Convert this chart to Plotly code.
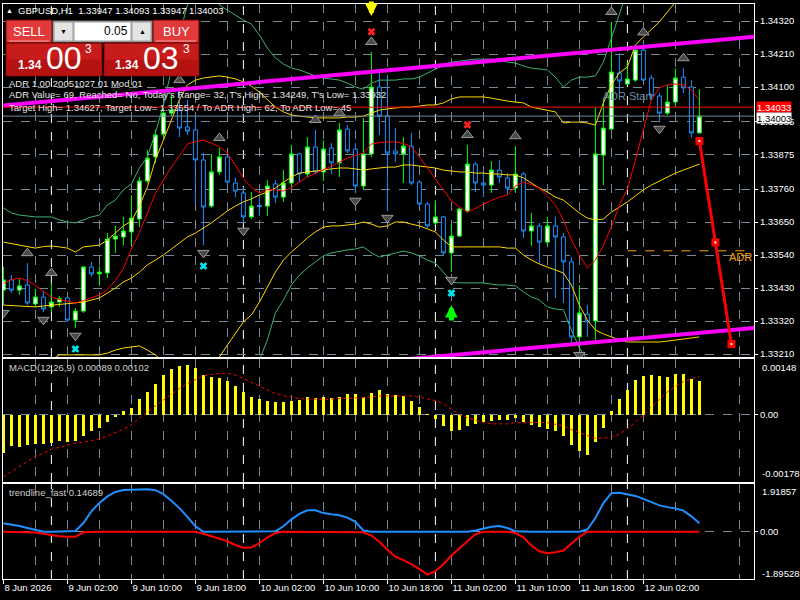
import pandas as pd
import plotly.graph_objects as go

# ---------------- data ----------------
times = pd.date_range("2026-06-08 18:00", periods=88, freq="h")
bars = list(range(len(times)))

open_ = [1.33423,1.33457,1.33423,1.33440,1.33377,1.33400,1.33367,1.33383,1.33397,1.33323,
         1.33353,1.33500,1.33477,1.33480,1.33593,1.33600,1.33617,1.33660,1.33787,1.33867,
         1.33943,1.34013,1.34023,1.33967,1.33957,1.33857,1.33703,1.33817,1.33867,1.33780,
         1.33747,1.33667,1.33705,1.33703,1.33777,1.33733,1.33780,1.33877,1.33810,1.33900,
         1.33817,1.33897,1.33847,1.33960,1.33893,1.33770,1.33877,1.34100,1.34003,1.33887,
         1.33877,1.33903,1.33783,1.33710,1.33647,1.33667,1.33547,1.33603,1.33687,1.33843,
         1.33780,1.33773,1.33823,1.33797,1.33763,1.33810,1.33620,1.33637,1.33583,1.33637,
         1.33600,1.33517,1.33267,1.33343,1.33320,1.33873,1.33960,1.34147,1.34110,1.34123,
         1.34223,1.34130,1.34070,1.34013,1.34050,1.34133,1.34100,1.33947]
high = [1.33500,1.33473,1.33460,1.33513,1.33427,1.33417,1.33447,1.33403,1.33400,1.33363,
        1.33503,1.33517,1.33503,1.33613,1.33637,1.33667,1.33740,1.33800,1.33890,1.33957,
        1.34030,1.34073,1.34090,1.34057,1.34007,1.33880,1.33877,1.33897,1.33873,1.33797,
        1.33767,1.33750,1.33740,1.33790,1.33790,1.33823,1.33907,1.33880,1.33933,1.33957,
        1.33923,1.33913,1.33980,1.33973,1.33913,1.33997,1.34217,1.34157,1.34140,1.33963,
        1.33933,1.33947,1.33790,1.33717,1.33723,1.33670,1.33643,1.33697,1.33907,1.33850,
        1.33813,1.33853,1.33857,1.33813,1.33903,1.33817,1.33680,1.33647,1.33667,1.33667,
        1.33613,1.33533,1.33440,1.33373,1.34030,1.34063,1.34317,1.34213,1.34183,1.34233,
        1.34249,1.34140,1.34080,1.34107,1.34163,1.34163,1.34123,1.34093]
low = [1.33373,1.33413,1.33407,1.33373,1.33367,1.33350,1.33350,1.33367,1.33317,1.33297,
       1.33347,1.33467,1.33437,1.33463,1.33547,1.33573,1.33570,1.33633,1.33780,1.33847,
       1.33933,1.34003,1.33933,1.33940,1.33713,1.33573,1.33697,1.33807,1.33773,1.33733,
       1.33647,1.33660,1.33670,1.33670,1.33713,1.33717,1.33767,1.33783,1.33800,1.33810,
       1.33787,1.33810,1.33800,1.33880,1.33747,1.33760,1.33867,1.33940,1.33690,1.33850,
       1.33780,1.33773,1.33700,1.33630,1.33640,1.33540,1.33483,1.33600,1.33680,1.33750,
       1.33733,1.33747,1.33780,1.33743,1.33750,1.33597,1.33570,1.33513,1.33573,1.33397,
       1.33380,1.33247,1.33233,1.33267,1.33250,1.33773,1.33957,1.34083,1.34107,1.34117,
       1.34117,1.34057,1.33987,1.34007,1.34033,1.34080,1.33932,1.33947]
close = [1.33457,1.33423,1.33437,1.33380,1.33400,1.33360,1.33383,1.33395,1.33323,1.33353,
         1.33500,1.33477,1.33483,1.33593,1.33603,1.33620,1.33663,1.33787,1.33863,1.33940,
         1.34013,1.34023,1.33963,1.33953,1.33857,1.33700,1.33817,1.33867,1.33783,1.33753,
         1.33667,1.33703,1.33702,1.33770,1.33733,1.33780,1.33877,1.33810,1.33900,1.33817,
         1.33893,1.33847,1.33957,1.33887,1.33770,1.33877,1.34100,1.34003,1.33880,1.33877,
         1.33903,1.33780,1.33710,1.33637,1.33667,1.33547,1.33603,1.33693,1.33843,1.33780,
         1.33773,1.33823,1.33800,1.33763,1.33810,1.33620,1.33637,1.33583,1.33637,1.33600,
         1.33517,1.33267,1.33347,1.33317,1.33877,1.33963,1.34150,1.34120,1.34127,1.34223,
         1.34123,1.34070,1.34013,1.34050,1.34130,1.34097,1.33947,1.34003]

ma_red = [1.33445,1.33458,1.33463,1.33455,1.33438,1.33420,1.33400,1.33392,1.33385,1.33380,
          1.33388,1.33398,1.33407,1.33425,1.33455,1.33495,1.33560,1.33615,1.33680,1.33745,
          1.33790,1.33833,1.33870,1.33910,1.33918,1.33923,1.33913,1.33900,1.33880,1.33840,
          1.33795,1.33765,1.33747,1.33758,1.33757,1.33753,1.33765,1.33783,1.33800,1.33812,
          1.33823,1.33836,1.33850,1.33863,1.33872,1.33880,1.33910,1.33915,1.33917,1.33917,
          1.33912,1.33900,1.33867,1.33830,1.33795,1.33757,1.33720,1.33700,1.33683,1.33695,
          1.33710,1.33722,1.33733,1.33740,1.33770,1.33783,1.33775,1.33762,1.33737,1.33707,
          1.33657,1.33590,1.33540,1.33497,1.33523,1.33573,1.33633,1.33707,1.33760,1.33857,
          1.33957,1.34057,1.34097,1.34107,1.34110,1.34107,1.34090,1.34057]
band_up_y = [1.33583,1.33578,1.33573,1.33567,1.33563,1.33568,1.33570,1.33567,1.33563,1.33550,
             1.33567,1.33570,1.33573,1.33590,1.33613,1.33637,1.33653,1.33703,1.33767,1.33857,
             1.33923,1.33990,1.34057,1.34107,1.34123,1.34130,1.34133,1.34137,1.34133,1.34127,
             1.34117,1.34103,1.34083,1.34057,1.34033,1.34017,1.34007,1.34003,1.34000,1.33997,
             1.33997,1.33997,1.33997,1.34000,1.34000,1.34003,1.34013,1.34023,1.34027,1.34030,
             1.34033,1.34033,1.34037,1.34040,1.34040,1.34047,1.34060,1.34067,1.34067,1.34067,
             1.34067,1.34063,1.34057,1.34053,1.34050,1.34047,1.34033,1.34027,1.34023,1.34017,
             1.33980,1.33983,1.33983,1.33980,1.33973,1.34047,1.34107,1.34147,1.34167,1.34240,
             1.34267,1.34293,1.34317,1.34350,1.34383,1.34410,1.34430,1.34450]
band_mid_y = [1.33373,1.33372,1.33370,1.33368,1.33367,1.33370,1.33373,1.33375,1.33377,1.33380,
              1.33383,1.33390,1.33397,1.33413,1.33430,1.33450,1.33463,1.33483,1.33507,1.33523,
              1.33540,1.33560,1.33580,1.33600,1.33613,1.33630,1.33647,1.33667,1.33687,1.33703,
              1.33717,1.33727,1.33740,1.33750,1.33763,1.33783,1.33800,1.33813,1.33817,1.33820,
              1.33823,1.33827,1.33830,1.33830,1.33827,1.33823,1.33827,1.33830,1.33833,1.33833,
              1.33840,1.33840,1.33837,1.33833,1.33830,1.33823,1.33820,1.33817,1.33817,1.33813,
              1.33813,1.33810,1.33810,1.33807,1.33807,1.33797,1.33780,1.33763,1.33750,1.33733,
              1.33723,1.33700,1.33680,1.33663,1.33657,1.33660,1.33683,1.33700,1.33717,1.33737,
              1.33757,1.33773,1.33787,1.33800,1.33813,1.33823,1.33833,1.33843]
band_lo_y = [1.33163,1.33160,1.33160,1.33157,1.33160,1.33173,1.33190,1.33207,1.33207,1.33207,
             1.33207,1.33207,1.33207,1.33213,1.33223,1.33230,1.33233,1.33237,1.33223,1.33207,
             1.33183,1.33150,1.33107,1.33083,1.33090,1.33123,1.33167,1.33200,1.33240,1.33280,
             1.33317,1.33340,1.33383,1.33433,1.33483,1.33523,1.33550,1.33573,1.33597,1.33617,
             1.33633,1.33637,1.33637,1.33640,1.33643,1.33650,1.33643,1.33633,1.33637,1.33650,
             1.33650,1.33643,1.33637,1.33627,1.33617,1.33590,1.33567,1.33567,1.33567,1.33567,
             1.33567,1.33567,1.33567,1.33563,1.33563,1.33540,1.33523,1.33510,1.33500,1.33490,
             1.33480,1.33440,1.33373,1.33323,1.33290,1.33277,1.33267,1.33257,1.33250,1.33250,
             1.33250,1.33250,1.33250,1.33253,1.33257,1.33260,1.33263,1.33267]
band_up_g = [1.33697,1.33680,1.33673,1.33670,1.33667,1.33667,1.33667,1.33657,1.33650,1.33647,
             1.33657,1.33667,1.33673,1.33707,1.33723,1.33757,1.33777,1.33830,1.33867,1.33947,
             1.34040,1.34157,1.34273,1.34373,1.34457,1.34490,1.34440,1.34373,1.34357,1.34340,
             1.34323,1.34310,1.34273,1.34230,1.34197,1.34177,1.34163,1.34157,1.34147,1.34137,
             1.34130,1.34127,1.34123,1.34113,1.34100,1.34093,1.34113,1.34123,1.34123,1.34123,
             1.34127,1.34127,1.34133,1.34147,1.34160,1.34173,1.34183,1.34187,1.34190,1.34193,
             1.34193,1.34193,1.34190,1.34183,1.34180,1.34170,1.34163,1.34160,1.34157,1.34133,
             1.34100,1.34123,1.34133,1.34133,1.34137,1.34183,1.34263,1.34350,1.34423,1.34490,
             1.34540,1.34573,1.34590,1.34607,1.34617,1.34623,1.34630,1.34633]
band_lo_g = [1.33050,1.33063,1.33067,1.33067,1.33067,1.33073,1.33080,1.33093,1.33103,1.33113,
             1.33110,1.33113,1.33120,1.33120,1.33137,1.33143,1.33150,1.33137,1.33147,1.33100,
             1.33040,1.32963,1.32887,1.32827,1.32770,1.32770,1.32853,1.32960,1.33017,1.33067,
             1.33110,1.33143,1.33190,1.33257,1.33347,1.33390,1.33440,1.33473,1.33497,1.33517,
             1.33537,1.33547,1.33553,1.33557,1.33560,1.33567,1.33547,1.33533,1.33540,1.33547,
             1.33553,1.33547,1.33537,1.33523,1.33513,1.33483,1.33450,1.33447,1.33447,1.33447,
             1.33447,1.33443,1.33440,1.33440,1.33437,1.33417,1.33400,1.33390,1.33367,1.33360,
             1.33357,1.33290,1.33230,1.33190,1.33173,1.33140,1.33090,1.33057,1.33023,1.32990,
             1.32957,1.32940,1.32923,1.32923,1.32923,1.32923,1.32923,1.32923]

macd_hist = [-0.00100,-0.00082,-0.00084,-0.00080,-0.00078,-0.00076,-0.00075,-0.00070,-0.00073,-0.00070,
             -0.00055,-0.00044,-0.00036,-0.00020,-0.00006,0.00009,0.00019,0.00043,0.00061,0.00083,
             0.00105,0.00121,0.00129,0.00132,0.00125,0.00105,0.00101,0.00098,0.00089,0.00076,
             0.00061,0.00047,0.00041,0.00038,0.00034,0.00034,0.00038,0.00040,0.00046,0.00045,
             0.00046,0.00045,0.00047,0.00054,0.00054,0.00046,0.00058,0.00065,0.00056,0.00052,
             0.00050,0.00037,0.00021,0.00001,-0.00011,-0.00030,-0.00042,-0.00039,-0.00030,-0.00024,
             -0.00020,-0.00015,-0.00013,-0.00013,-0.00009,-0.00020,-0.00026,-0.00033,-0.00038,-0.00042,
             -0.00055,-0.00080,-0.00097,-0.00107,-0.00073,-0.00036,0.00010,0.00043,0.00065,0.00092,
             0.00104,0.00105,0.00104,0.00099,0.00108,0.00108,0.00096,0.00089]
macd_signal = [-0.00164,-0.00150,-0.00137,-0.00123,-0.00110,-0.00102,-0.00091,-0.00086,-0.00080,-0.00075,
               -0.00072,-0.00068,-0.00064,-0.00056,-0.00048,-0.00038,-0.00027,-0.00008,0.00008,0.00024,
               0.00040,0.00056,0.00070,0.00083,0.00094,0.00103,0.00107,0.00110,0.00110,0.00106,
               0.00096,0.00086,0.00075,0.00064,0.00056,0.00051,0.00046,0.00043,0.00042,0.00041,
               0.00041,0.00042,0.00043,0.00044,0.00046,0.00046,0.00047,0.00050,0.00050,0.00050,
               0.00050,0.00050,0.00047,0.00043,0.00038,0.00029,0.00016,0.00001,-0.00008,-0.00015,
               -0.00020,-0.00024,-0.00024,-0.00024,-0.00021,-0.00020,-0.00020,-0.00020,-0.00021,-0.00024,
               -0.00029,-0.00039,-0.00048,-0.00055,-0.00062,-0.00062,-0.00059,-0.00051,-0.00038,-0.00020,
               0.00000,0.00021,0.00040,0.00061,0.00075,0.00088,0.00095,0.00102]

trend_up = [0.34,0.30,0.23,0.15,0.07,0,0,0,0,0.03,
            0.35,0.82,1.16,1.42,1.60,1.68,1.69,1.70,1.71,1.67,
            1.51,1.25,0.95,0.60,0.22,0,0,0,0,0,
            0,0,0,0,0.02,0.22,0.50,0.72,0.86,0.86,
            0.75,0.70,0.66,0.57,0.40,0.05,0,0,0,0,
            0,0,0,0,0,0,0,0,0,0.05,
            0.14,0.20,0.23,0.15,0.02,0,0,0,0,0,
            0,0,0,0.10,0.55,1.15,1.55,1.57,1.50,1.44,
            1.32,1.20,1.06,0.99,0.94,0.85,0.62,0.34]
trend_dn = [0,0,0,0,-0.03,-0.08,-0.14,-0.18,-0.20,-0.20,
            -0.02,0,0,0,0,0,0,0,0,0,
            0,0,0,0,0,-0.08,-0.18,-0.30,-0.38,-0.53,
            -0.64,-0.63,-0.45,-0.22,-0.05,0,0,0,0,0,
            0,0,0,0,0,-0.02,-0.15,-0.40,-0.72,-1.00,
            -1.14,-1.30,-1.50,-1.72,-1.58,-1.30,-0.95,-0.65,-0.38,-0.10,
            0,0,0,0,-0.05,-0.22,-0.55,-0.78,-0.86,-0.82,
            -0.75,-0.48,-0.20,0,0,0,0,0,0,0,
            0,0,0,0,0,0,0,0]

up_arrow_bars = [3, 6, 22, 27, 39, 42, 46, 58, 64, 76, 80, 85]
down_arrow_bars = [0, 5, 9, 25, 30, 44, 48, 56, 72, 82]
cyan_x_bars = [9, 25, 56]
red_x_bars = [46, 58]
sell_signal_bar = 46
buy_signal_bar = 56

upper_tl_bars = [0, 94]
upper_tl_price = [1.34038, 1.34268]
lower_tl_bars = [40, 94]
lower_tl_price = [1.33168, 1.33297]

proj_bars = [87, 89, 91]
proj_price = [1.33920, 1.33582, 1.33243]

ask = 1.34033
bid = close[-1]
target_low = 1.33554
adr_start_price = 1.34067

price_labels = ["1.34320", "1.34210", "1.34100", "1.33985", "1.33875", "1.33760",
                "1.33650", "1.33540", "1.33430", "1.33320", "1.33210"]
time_labels = ["8 Jun 2026", "9 Jun 02:00", "9 Jun 10:00", "9 Jun 18:00", "10 Jun 02:00",
               "10 Jun 10:00", "10 Jun 18:00", "11 Jun 02:00", "11 Jun 10:00", "11 Jun 18:00",
               "12 Jun 02:00"]
time_label_bars = [0, 8, 16, 24, 32, 40, 48, 56, 64, 72, 80]
minor_grid_bars = [4, 12, 20, 28, 36, 44, 52, 60, 68, 76, 84, 92]
day_sep_bars = [i for i, t in enumerate(times) if t.hour == 0]

adr_lines = ["ADR 1,00 20051027 01 Mod 01",
             "ADR Value= 69, Reached= No, Today's Range= 32, T's High= 1.34249, T's Low= 1.33932",
             "Target High= 1.34627, Target Low= 1.33554 / To ADR High= 62, To ADR Low= 45"]
macd_label = "MACD(12,26,9) 0.00089 0.00102"
trend_label = "trendline_fast 0.14689"
macd_max, macd_min = 0.00148, -0.00178
trend_max, trend_min = 1.91857, -1.89528

# ---------------- styling helpers ----------------
GRID = "#778899"
FONT = "Liberation Sans"
X_RANGE = [-0.05, 93.825]


def px(x):
    return (x - 3) / 751.0


def py(y):
    return (579 - y) / 575.0


fig = go.Figure()

# bands / MAs (main)
for arr, col in [(band_up_g, "#3cb371"), (band_lo_g, "#3cb371"),
                 (band_up_y, "#ffd700"), (band_mid_y, "#ffd700"), (band_lo_y, "#ffd700"),
                 (ma_red, "#ff0000")]:
    fig.add_trace(go.Scatter(x=bars, y=arr, mode="lines", line=dict(color=col, width=1),
                             xaxis="x", yaxis="y", hoverinfo="skip"))

# ADR start label (drawn under candles)
adr_start_bar = day_sep_bars[-1]
fig.add_trace(go.Scatter(x=[adr_start_bar], y=[adr_start_price], mode="text", text=["ADR Start"],
                         textposition="middle center",
                         textfont=dict(size=11, color="#6f8aa6", family=FONT), xaxis="x", yaxis="y"))

fig.add_trace(go.Candlestick(
    x=bars, open=open_, high=high, low=low, close=close,
    increasing=dict(line=dict(color="#00ff00", width=1), fillcolor="#ffffff"),
    decreasing=dict(line=dict(color="#1e90ff", width=1), fillcolor="#000000"),
    whiskerwidth=0, xaxis="x", yaxis="y"))

# trend channel lines
fig.add_trace(go.Scatter(x=upper_tl_bars, y=upper_tl_price, mode="lines",
                         line=dict(color="#ff00ff", width=4), xaxis="x", yaxis="y"))
fig.add_trace(go.Scatter(x=lower_tl_bars, y=lower_tl_price, mode="lines",
                         line=dict(color="#ff00ff", width=4), xaxis="x", yaxis="y"))

# ADR target low dashed line
fig.add_trace(go.Scatter(x=[adr_start_bar, X_RANGE[1] + 1], y=[target_low, target_low], mode="lines",
                         line=dict(color="#ffa500", width=1, dash="dash"), xaxis="x", yaxis="y"))

# arrows
fig.add_trace(go.Scatter(x=up_arrow_bars, y=[high[i] + 0.00033 for i in up_arrow_bars], mode="markers",
                         marker=dict(symbol="triangle-up", size=10, color="#4a4a4a",
                                     line=dict(color="#9a9a9a", width=1)), xaxis="x", yaxis="y"))
fig.add_trace(go.Scatter(x=down_arrow_bars, y=[low[i] - 0.00026 for i in down_arrow_bars], mode="markers",
                         marker=dict(symbol="triangle-down", size=10, color="#4a4a4a",
                                     line=dict(color="#9a9a9a", width=1)), xaxis="x", yaxis="y"))
fig.add_trace(go.Scatter(x=cyan_x_bars, y=[low[i] - 0.00070 for i in cyan_x_bars], mode="markers",
                         marker=dict(symbol="x", size=7, color="#00e5ee"), xaxis="x", yaxis="y"))
fig.add_trace(go.Scatter(x=red_x_bars, y=[high[i] + 0.00067 for i in red_x_bars], mode="markers",
                         marker=dict(symbol="x", size=7, color="#ff2020"), xaxis="x", yaxis="y"))

# projection
fig.add_trace(go.Scatter(x=proj_bars, y=proj_price, mode="lines+markers",
                         line=dict(color="#ff0000", width=3),
                         marker=dict(symbol="square", size=8, color="#ff0000"), xaxis="x", yaxis="y"))
fig.add_trace(go.Scatter(x=proj_bars, y=proj_price, mode="markers",
                         marker=dict(symbol="square", size=2, color="#ffffff"), xaxis="x", yaxis="y"))

# MACD
fig.add_trace(go.Bar(x=bars, y=macd_hist, width=0.38, marker=dict(color="#ffff00", line=dict(width=0)),
                     xaxis="x2", yaxis="y2"))
fig.add_trace(go.Scatter(x=bars, y=macd_signal, mode="lines", line=dict(color="#ff0000", width=1, dash="dot"),
                         xaxis="x2", yaxis="y2"))

# trendline_fast
fig.add_trace(go.Scatter(x=bars, y=trend_up, mode="lines", line=dict(color="#1e90ff", width=2),
                         xaxis="x3", yaxis="y3"))
fig.add_trace(go.Scatter(x=bars, y=trend_dn, mode="lines", line=dict(color="#ff0000", width=2),
                         xaxis="x3", yaxis="y3"))

shapes = []
# day separators
for b in day_sep_bars:
    for xr, yr in [("x", "y"), ("x2", "y2"), ("x3", "y3")]:
        shapes.append(dict(type="line", xref=xr, yref=yr + " domain", x0=b, x1=b, y0=0, y1=1,
                           line=dict(color="#ffffff", width=1, dash="dash"), layer="below"))
# bid / ask lines
shapes.append(dict(type="line", xref="x domain", yref="y", x0=0, x1=1, y0=ask, y1=ask,
                   line=dict(color="#ff0000", width=1)))
shapes.append(dict(type="line", xref="x domain", yref="y", x0=0, x1=1, y0=bid, y1=bid,
                   line=dict(color="#778899", width=1)))


def rect(x0, y0, x1, y1, fill, line="#6a0000"):
    shapes.append(dict(type="rect", xref="paper", yref="paper", x0=px(x0), x1=px(x1),
                       y0=py(y1), y1=py(y0), fillcolor=fill, line=dict(color=line, width=1),
                       layer="above"))


# trade panel
rect(6, 20, 52, 43, "#e23a3a")
rect(153, 20, 199, 43, "#e23a3a")
rect(53, 21, 152, 42, "#c8c8c8", "#707070")
rect(54, 22, 73, 41, "#e4e4e4", "#9a9a9a")
rect(132, 22, 151, 41, "#e4e4e4", "#9a9a9a")
rect(74, 22, 131, 41, "#ffffff", "#9a9a9a")
rect(6, 43, 102, 76, "#c81c1c")
rect(104, 43, 199, 76, "#c81c1c")
rect(7, 60, 101, 75, "#b51212", "#b51212")
rect(105, 60, 198, 75, "#b51212", "#b51212")
for xa, xb in [(9, 49), (156, 196)]:
    shapes.append(dict(type="line", xref="paper", yref="paper", x0=px(xa), x1=px(xb), y0=py(41), y1=py(41),
                       line=dict(color="#f4a0a0", width=1), layer="above"))

ann = []


def txt(x, y, s, size=9.5, color="#e8e8e8", xanchor="left", **kw):
    ann.append(dict(x=px(x), y=py(y), xref="paper", yref="paper", text=s, showarrow=False,
                    xanchor=xanchor, yanchor="middle", font=dict(size=size, color=color, family=FONT), **kw))


txt(4, 10, "▲", size=7, color="#ffffff")
txt(16, 10, f"GBPUSD,H1  {open_[-1]:.5f} {high[-1]:.5f} {low[-1]:.5f} {close[-1]:.5f}", color="#ffffff")
txt(29, 31, "SELL", size=13, color="#ffffff", xanchor="center")
txt(176, 31, "BUY", size=13, color="#ffffff", xanchor="center")
txt(130, 31, "0.05", size=12, color="#000000", xanchor="right")
txt(63, 31, "▼", size=7, color="#000000", xanchor="center")
txt(142, 31, "▲", size=7, color="#000000", xanchor="center")
txt(44, 65, "<b>1.34</b>", size=12, color="#ffffff", xanchor="right")
txt(64, 58, "00", size=32, color="#ffffff", xanchor="center")
txt(88, 49, "3", size=12, color="#ffffff", xanchor="center")
txt(141, 65, "<b>1.34</b>", size=12, color="#ffffff", xanchor="right")
txt(161, 58, "03", size=32, color="#ffffff", xanchor="center")
txt(186, 49, "3", size=12, color="#ffffff", xanchor="center")
for s, yy in zip(adr_lines, [83, 95, 107]):
    txt(7, yy, s, color="#e6e6e6")
txt(7, 367, macd_label, color="#d0d0d0")
txt(7, 492, trend_label, color="#d0d0d0")
txt(754, 257, "ADR", size=11, color="#ffa500", xanchor="right")

# price labels for bid/ask
ann.append(dict(x=1, y=ask, xref="paper", yref="y", text=f"{ask:.5f}", showarrow=False, xanchor="left",
                xshift=2, yanchor="middle", bgcolor="#ff0000", borderpad=0, height=10, yshift=0,
                font=dict(size=9.5, color="#ffffff", family=FONT)))
ann.append(dict(x=1, y=bid, xref="paper", yref="y", text=f"{bid:.5f}", showarrow=False, xanchor="left",
                xshift=2, yanchor="middle", bgcolor="#ffffff", borderpad=0, height=10, yshift=-2,
                font=dict(size=9.5, color="#000000", family=FONT)))

# sub-window max/min labels
for val, yy in [(f"{macd_max:.5f}", 367), (f"{macd_min:.5f}", 474), (f"{trend_max:.5f}", 491),
                (f"{trend_min:.5f}", 573)]:
    txt(760, yy, val, color="#ffffff")

# signal arrows
ann.append(dict(x=sell_signal_bar, y=high[sell_signal_bar] + 0.00120, xref="x", yref="y", ax=0, ay=-17,
                showarrow=True, arrowhead=2, arrowsize=0.5, arrowwidth=5, arrowcolor="#ffff00", text=""))
ann.append(dict(x=buy_signal_bar, y=low[buy_signal_bar] - 0.00110, xref="x", yref="y", ax=0, ay=17,
                showarrow=True, arrowhead=2, arrowsize=0.5, arrowwidth=5, arrowcolor="#00ff00", text=""))

common_x = dict(showgrid=True, gridcolor=GRID, griddash="dash", gridwidth=1,
                tickmode="array", tickvals=time_label_bars,
                minor=dict(tickmode="array", tickvals=minor_grid_bars, showgrid=True, gridcolor=GRID,
                           griddash="dash", ticks=""),
                showline=True, mirror=True, linecolor="#ffffff", linewidth=1, zeroline=False)

fig.update_layout(
    width=800, height=600,
    margin=dict(l=3, r=46, t=4, b=21),
    paper_bgcolor="#000000", plot_bgcolor="#000000",
    showlegend=False,
    font=dict(family=FONT, size=9.5, color="#ffffff"),
    xaxis=dict(domain=[0, 1], anchor="y", range=X_RANGE, showticklabels=False, ticks="",
               rangeslider=dict(visible=False), **common_x),
    xaxis2=dict(domain=[0, 1], anchor="y2", matches="x", showticklabels=False, ticks="", **common_x),
    xaxis3=dict(domain=[0, 1], anchor="y3", matches="x", ticktext=time_labels, ticks="outside",
                ticklen=4, tickcolor="#ffffff", ticklabelposition="outside right",
                tickfont=dict(size=9.5, color="#ffffff"), **common_x),
    yaxis=dict(domain=[py(357), py(4)], anchor="x", side="right", range=[1.33200, 1.343767],
               tickmode="array", tickvals=[float(s) for s in price_labels], ticktext=price_labels,
               showgrid=True, gridcolor=GRID, griddash="dash", ticks="outside", ticklen=3,
               tickcolor="#ffffff", showline=True, mirror=True, linecolor="#ffffff", zeroline=False,
               tickfont=dict(size=9.5, color="#ffffff")),
    yaxis2=dict(domain=[py(482), py(359)], anchor="x2", side="right", range=[macd_min, macd_max],
                tickmode="array", tickvals=[0], ticktext=["0.00"], showgrid=True, gridcolor=GRID,
                griddash="dash", ticks="outside", ticklen=3, tickcolor="#ffffff", showline=True,
                mirror=True, linecolor="#ffffff", zeroline=False, tickfont=dict(size=9.5, color="#ffffff")),
    yaxis3=dict(domain=[py(579), py(484)], anchor="x3", side="right", range=[trend_min, trend_max],
                tickmode="array", tickvals=[0], ticktext=["0.00"], showgrid=True, gridcolor=GRID,
                griddash="dash", ticks="outside", ticklen=3, tickcolor="#ffffff", showline=True,
                mirror=True, linecolor="#ffffff", zeroline=False, tickfont=dict(size=9.5, color="#ffffff")),
    shapes=shapes,
    annotations=ann,
    bargap=0,
)

fig.write_html("out.html")
